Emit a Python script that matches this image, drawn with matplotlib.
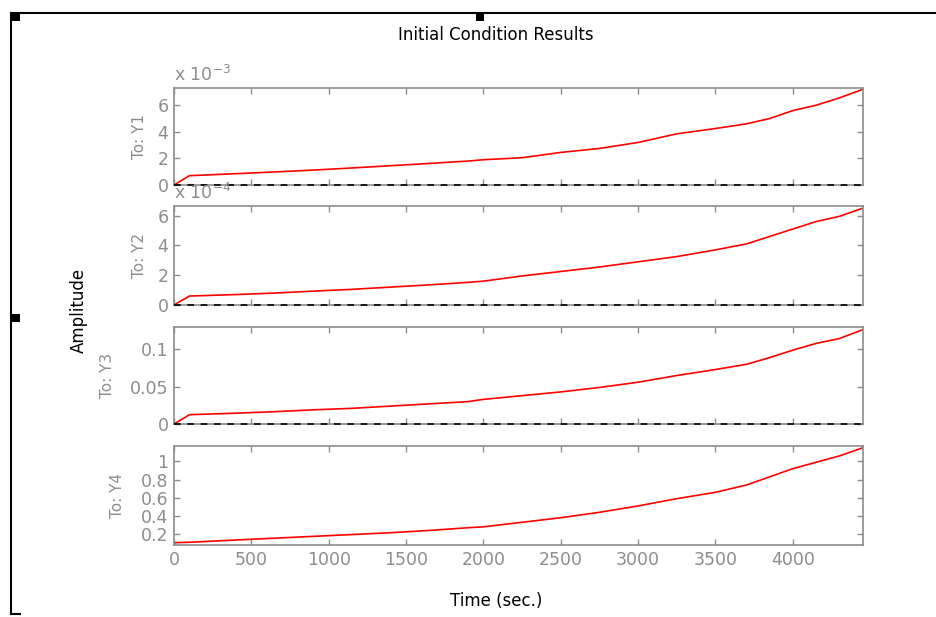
import matplotlib
matplotlib.use('Agg')
from matplotlib import pyplot as plt
from matplotlib.patches import Rectangle
from matplotlib.lines import Line2D
import numpy as np

# time samples (sec.)
t = [0, 100, 400, 650, 900, 1150, 1400, 1650, 1900, 2000, 2250, 2500,
     2750, 3000, 3250, 3500, 3700, 3850, 4000, 4150, 4300, 4453]

# responses
y1 = [0, 0.70, 0.85, 0.98, 1.12, 1.28, 1.45, 1.62, 1.80, 1.90, 2.05, 2.45,
      2.75, 3.20, 3.85, 4.25, 4.60, 5.00, 5.60, 6.00, 6.55, 7.20]          # x 1e-3
y2 = [0, 0.60, 0.70, 0.80, 0.93, 1.05, 1.20, 1.35, 1.52, 1.60, 1.95, 2.25,
      2.55, 2.90, 3.25, 3.70, 4.10, 4.60, 5.10, 5.60, 5.95, 6.50]          # x 1e-4
y3 = [0, 0.0125, 0.0145, 0.0165, 0.019, 0.021, 0.024, 0.027, 0.030, 0.033,
      0.038, 0.043, 0.049, 0.056, 0.065, 0.073, 0.080, 0.089, 0.099, 0.108,
      0.1145, 0.1265]
y4 = [0.105, 0.11, 0.135, 0.155, 0.175, 0.195, 0.215, 0.24, 0.27, 0.28,
      0.33, 0.38, 0.44, 0.51, 0.59, 0.66, 0.74, 0.83, 0.92, 0.99, 1.06, 1.15]

outputs = ['To: Y1', 'To: Y2', 'To: Y3', 'To: Y4']
ylims = [(0, 7.3), (0, 6.65), (0, 0.13), (0.08, 1.17)]
yticks = [[0, 2, 4, 6], [0, 2, 4, 6], [0, 0.05, 0.1], [0.2, 0.4, 0.6, 0.8, 1]]
yticklabels = [['0', '2', '4', '6'], ['0', '2', '4', '6'], ['0', '0.05', '0.1'],
               ['0.2', '0.4', '0.6', '0.8', '1']]
exponents = [r'x 10$^{-3}$', r'x 10$^{-4}$', None, None]
xticks = [0, 500, 1000, 1500, 2000, 2500, 3000, 3500, 4000]

grey = '#8c8c8c'
plt.rcParams['font.family'] = 'DejaVu Sans'
plt.rcParams['font.size'] = 12

W, H = 936.0, 617.0
fig = plt.figure(figsize=(9.36, 6.17), dpi=100)
fig.patch.set_facecolor('white')

boxes = [(0.1859, 0.7002, 0.736, 0.1572),
         (0.1859, 0.5057, 0.736, 0.1605),
         (0.1859, 0.3128, 0.736, 0.1572),
         (0.1859, 0.1167, 0.736, 0.1605)]
label_x = [139, 139, 108, 118]   # centre of the "To: Yn" labels, pixels
data = [y1, y2, y3, y4]

for i, (box, y) in enumerate(zip(boxes, data)):
    ax = fig.add_axes(box)
    ax.plot(t, y, color='#ff0000', lw=1.2)
    if i < 3:
        ax.axhline(0, color='k', ls=(0, (4, 4)), lw=1.2, zorder=4, clip_on=False)
    ax.set_xlim(0, 4453)
    ax.set_ylim(*ylims[i])
    ax.set_yticks(yticks[i])
    ax.set_yticklabels(yticklabels[i])
    ax.set_xticks(xticks)
    if i < 3:
        ax.set_xticklabels([])
    ax.tick_params(direction='in', length=4, width=1, colors=grey,
                   top=True, right=True, labelsize=12.5, pad=4)
    for s in ax.spines.values():
        s.set_color(grey)
        s.set_linewidth(1.2)
    fig.text(label_x[i] / W, box[1] + box[3] / 2, outputs[i], rotation=90,
             color=grey, fontsize=11, ha='center', va='center')
    if exponents[i]:
        ax.text(0.0, 1.03, exponents[i], transform=ax.transAxes, color=grey,
                fontsize=12.5, ha='left', va='bottom')

fig.text(0.53, 0.943, 'Initial Condition Results', ha='center', va='center',
         fontsize=12)
fig.text(0.53, 0.026, 'Time (sec.)', ha='center', va='center', fontsize=12)
fig.text(79 / W, 0.497, 'Amplitude', rotation=90, ha='center', va='center',
         fontsize=12)

# surrounding frame with selection handles
fig.add_artist(Line2D([11 / W, 1.0], [1 - 13 / H, 1 - 13 / H], color='k', lw=1.5))
fig.add_artist(Line2D([11 / W, 11 / W], [1 - 13 / H, 1 - 614 / H], color='k', lw=1.5))
fig.add_artist(Line2D([11 / W, 20 / W], [1 - 614 / H, 1 - 614 / H], color='k', lw=1.5))
for hx, hy in [(12, 13), (476, 13), (12, 314)]:
    fig.add_artist(Rectangle((hx / W, 1 - (hy + 8) / H), 8 / W, 8 / H,
                             facecolor='k', edgecolor='none'))

plt.savefig('out.png', dpi=100)
